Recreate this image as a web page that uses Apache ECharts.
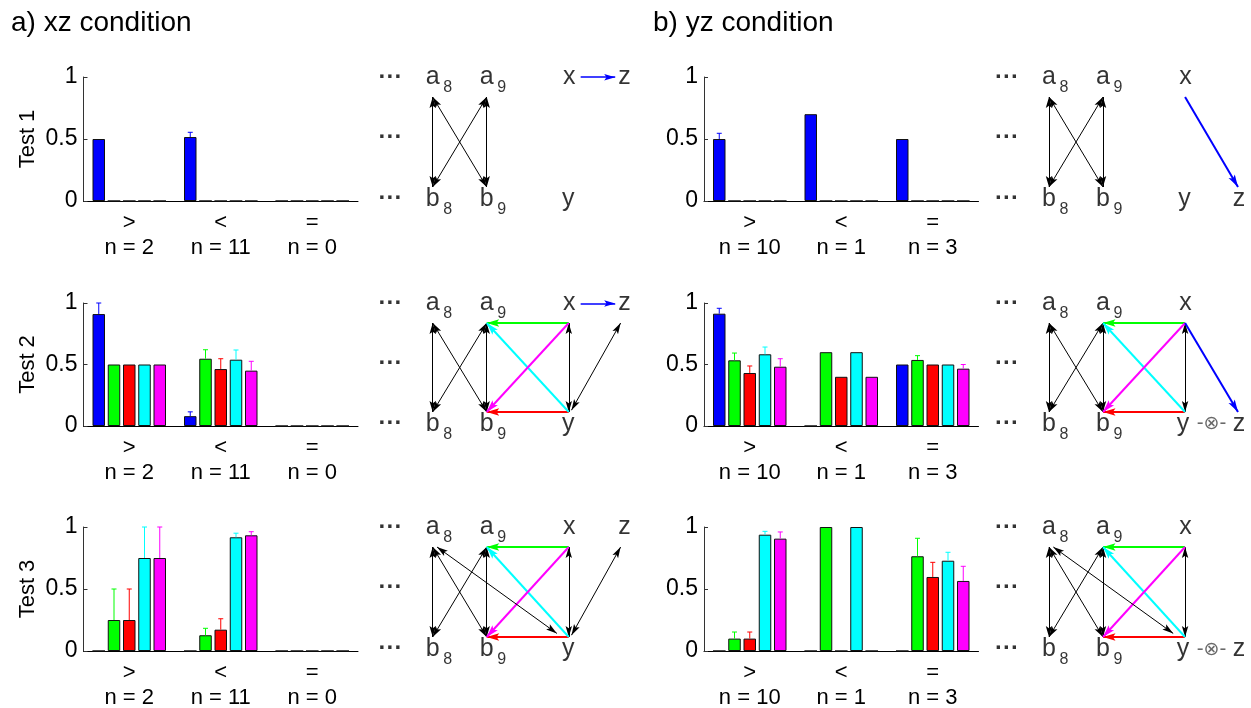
<!DOCTYPE html>
<html><head><meta charset="utf-8">
<script src="https://cdn.jsdelivr.net/npm/echarts@6/dist/echarts.min.js"></script>
<style>html,body{margin:0;padding:0;background:#fff}#c{width:1251px;height:708px}</style>
</head><body><div id="c"></div><script>
// ---------- data ----------
const categories = ['>', '<', '='];
const nXZ = [2, 11, 0];
const nYZ = [10, 1, 3];
const seriesColors = ['#0000ff', '#00ff00', '#ff0000', '#00ffff', '#ff00ff'];
// rows: blue, green, red, cyan, magenta ; columns: '>', '<', '='
const xzTest1Mean = [[0.5, 0.516, 0], [0, 0, 0], [0, 0, 0], [0, 0, 0], [0, 0, 0]];
const xzTest1Err  = [[0, 0.038, 0], [0, 0, 0], [0, 0, 0], [0, 0, 0], [0, 0, 0]];
const xzTest2Mean = [[0.91, 0.08, 0], [0.5, 0.547, 0], [0.5, 0.463, 0], [0.5, 0.539, 0], [0.5, 0.45, 0]];
const xzTest2Err  = [[0.09, 0.035, 0], [0, 0.073, 0], [0, 0.084, 0], [0, 0.079, 0], [0, 0.076, 0]];
const xzTest3Mean = [[0, 0, 0], [0.25, 0.127, 0], [0.25, 0.172, 0], [0.75, 0.917, 0], [0.75, 0.933, 0]];
const xzTest3Err  = [[0, 0, 0], [0.25, 0.056, 0], [0.25, 0.088, 0], [0.25, 0.033, 0], [0.25, 0.029, 0]];
const yzTest1Mean = [[0.5, 0.7, 0.5], [0, 0, 0], [0, 0, 0], [0, 0, 0], [0, 0, 0]];
const yzTest1Err  = [[0.046, 0, 0], [0, 0, 0], [0, 0, 0], [0, 0, 0], [0, 0, 0]];
const yzTest2Mean = [[0.913, 0, 0.5], [0.534, 0.6, 0.537], [0.431, 0.4, 0.5], [0.583, 0.6, 0.5], [0.482, 0.4, 0.466]];
const yzTest2Err  = [[0.044, 0, 0], [0.059, 0, 0.035], [0.057, 0, 0], [0.059, 0, 0], [0.065, 0, 0.034]];
const yzTest3Mean = [[0, 0, 0], [0.1, 1.0, 0.764], [0.1, 0, 0.597], [0.938, 1.0, 0.728], [0.906, 0, 0.565]];
const yzTest3Err  = [[0, 0, 0], [0.053, 0, 0.145], [0.053, 0, 0.118], [0.027, 0, 0.068], [0.054, 0, 0.118]];

// diagram edges: [from, to, kind]  k = black double-headed, others = coloured single arrow
const abEdges = [['a8', 'b8', 'k'], ['a8', 'b9', 'k'], ['a9', 'b8', 'k'], ['a9', 'b9', 'k']];
const squareEdges = [['x', 'y', 'k'], ['x', 'a9', 'g'], ['y', 'b9', 'r'], ['y', 'a9', 'c'], ['x', 'b9', 'm']];
const xzTest1Edges = abEdges.concat([['xL', 'zL', 'bl']]);
const xzTest2Edges = abEdges.concat(squareEdges, [['yZ', 'zT', 'k'], ['xL', 'zL', 'bl']]);
const xzTest3Edges = abEdges.concat(squareEdges, [['a8D', 'yD', 'k'], ['yZ', 'zT', 'k']]);
const yzTest1Edges = abEdges.concat([['x', 'zB', 'b']]);
const yzTest2Edges = abEdges.concat(squareEdges, [['x', 'zB', 'b']]);
const yzTest3Edges = abEdges.concat(squareEdges, [['a8D', 'yD', 'k']]);

// diagram node texts: [text, subscript, node]
const abTexts = [['a', '8', 'ta8'], ['b', '8', 'tb8'], ['a', '9', 'ta9'], ['b', '9', 'tb9'],
                 ['···', '', 'd1'], ['···', '', 'd2'], ['···', '', 'd3']];
const xzTexts = abTexts.concat([['x', '', 'tx'], ['y', '', 'ty'], ['z', '', 'tzT']]);
const yzTest1Texts = abTexts.concat([['x', '', 'tx'], ['y', '', 'ty'], ['z', '', 'tzB']]);
const yzTest23Texts = abTexts.concat([['x', '', 'tx'], ['y', '', 'ty2'], ['-⊗-', '', 'tot'], ['z', '', 'tzB']]);

// ---------- layout / style ----------
const FONT = '"Liberation Sans", Arial, Helvetica, sans-serif';
const P = { // diagram positions (column units, row units)
  a8: [0, 1], b8: [0, 0], a9: [1, 1], b9: [1, 0], x: [2.52, 1], y: [2.52, 0],
  zT: [3.48, 1], zB: [3.5, 0], xL: [2.74, 1.22], zL: [3.38, 1.22],
  a8D: [0.08, 1], yD: [2.3, 0.04], yZ: [2.57, 0.02],
  ta8: [0, 1.22], tb8: [0, -0.14], ta9: [1, 1.22], tb9: [1, -0.14],
  d1: [-0.78, 1.22], d2: [-0.78, 0.55], d3: [-0.78, -0.13],
  tx: [2.53, 1.22], ty: [2.51, -0.14], ty2: [2.48, -0.14], tzT: [3.55, 1.22], tzB: [3.52, -0.14], tot: [3.01, -0.14]
};
const ROWS = [[77, 201], [303, 426], [527, 651]];
const BAR_LEFT = [83.5, 704];
const BAR_W = 274.5;
const DIA_A8X = [432.7, 1049];
const UNIT = 54;
const BARW = 12.5, GAP = 0.22;
const STEP = BARW * (1 + GAP);
const edgeColor = { k: '#000', g: '#00ff00', r: '#ff0000', c: '#00ffff', m: '#ff00ff', b: '#0000ff', bl: '#0000ff' };
const ARROW = 'path://M0,0 M24,24 M12,12 L15.5,24 L12,21.5 L8.5,24 Z';

const means = [[xzTest1Mean, xzTest2Mean, xzTest3Mean], [yzTest1Mean, yzTest2Mean, yzTest3Mean]];
const errs = [[xzTest1Err, xzTest2Err, xzTest3Err], [yzTest1Err, yzTest2Err, yzTest3Err]];
const edges = [[xzTest1Edges, xzTest2Edges, xzTest3Edges], [yzTest1Edges, yzTest2Edges, yzTest3Edges]];
const texts = [[xzTexts, xzTexts, xzTexts], [yzTest1Texts, yzTest23Texts, yzTest23Texts]];
const ns = [nXZ, nYZ];

const grid = [], xAxis = [], yAxis = [], series = [];
for (let col = 0; col < 2; col++) {
  for (let row = 0; row < 3; row++) {
    const [Y1, Y0] = ROWS[row];
    // ---- bar panel ----
    const gi = grid.length;
    grid.push({ left: BAR_LEFT[col], top: Y1, width: BAR_W, height: Y0 - Y1, containLabel: false, outerBoundsMode: 'none' });
    const nArr = ns[col];
    xAxis.push({
      gridIndex: gi, type: 'category', data: categories,
      axisLine: { show: true, lineStyle: { color: '#000', width: 1 } },
      axisTick: { show: false }, splitLine: { show: false },
      axisLabel: { formatter: (v, i) => v + '\nn = ' + nArr[i], fontSize: 22, lineHeight: 25, color: '#000', margin: 9, fontFamily: FONT, interval: 0 }
    });
    yAxis.push({
      gridIndex: gi, type: 'value', min: 0, max: 1, interval: 0.5,
      axisLine: { show: true, lineStyle: { color: '#333', width: 1 } },
      axisTick: { show: true, inside: true, length: 4, lineStyle: { color: '#333' } },
      splitLine: { show: false },
      axisLabel: { fontSize: 23, color: '#000', margin: 6, fontFamily: FONT },
      name: col === 0 ? 'Test ' + (row + 1) : '', nameLocation: 'middle', nameGap: 45, nameRotate: 90,
      nameTextStyle: { fontSize: 22, color: '#000', fontFamily: FONT }
    });
    const m = means[col][row], e = errs[col][row];
    for (let s = 0; s < 5; s++) {
      series.push({
        type: 'bar', xAxisIndex: gi, yAxisIndex: gi, data: m[s],
        barWidth: BARW, barGap: (GAP * 100) + '%',
        itemStyle: { color: seriesColors[s], borderColor: '#111', borderWidth: 1 },
        animation: false, silent: true
      });
    }
    const errData = [];
    for (let s = 0; s < 5; s++) for (let c = 0; c < 3; c++) if (e[s][c] > 0) errData.push([c, m[s][c], e[s][c], s]);
    series.push({
      type: 'custom', xAxisIndex: gi, yAxisIndex: gi, data: errData, encode: { x: 0, y: 1 }, z: 3,
      animation: false, silent: true,
      renderItem: (params, api) => {
        const c = api.value(0), mv = api.value(1), ev = api.value(2), s = api.value(3);
        const p0 = api.coord([c, mv]), p1 = api.coord([c, mv + ev]);
        const x = p0[0] + (s - 2) * STEP;
        const st = { stroke: seriesColors[s], lineWidth: 1 };
        return { type: 'group', children: [
          { type: 'line', shape: { x1: x, y1: p0[1], x2: x, y2: p1[1] }, style: st },
          { type: 'line', shape: { x1: x - 2.5, y1: p1[1], x2: x + 2.5, y2: p1[1] }, style: st }
        ] };
      }
    });

    // ---- diagram panel ----
    const di = grid.length;
    const u = (Y0 - 14) - (Y1 + 20);
    grid.push({ left: DIA_A8X[col] - 0.9 * UNIT, top: Y1 + 20 - 0.4 * u, width: 4.6 * UNIT, height: 1.8 * u, containLabel: false, outerBoundsMode: 'none' });
    xAxis.push({ gridIndex: di, type: 'value', min: -0.9, max: 3.7, show: false });
    yAxis.push({ gridIndex: di, type: 'value', min: -0.4, max: 1.4, show: false });
    const lineData = edges[col][row].map(([a, b, k]) => {
      const dbl = k === 'k';
      return {
        coords: [P[a], P[b]],
        symbol: dbl ? [ARROW, ARROW] : ['none', ARROW],
        symbolSize: dbl ? [22, 22] : (k === 'bl' ? [0, 22] : [0, 25]),
        lineStyle: { color: edgeColor[k], width: dbl ? 1 : (k === 'bl' ? 1.6 : 2), opacity: 1 }
      };
    });
    series.push({
      type: 'lines', coordinateSystem: 'cartesian2d', xAxisIndex: di, yAxisIndex: di,
      data: lineData, lineStyle: { opacity: 1, curveness: 0 }, animation: false, silent: true, z: 2
    });
    const tx = texts[col][row];
    series.push({
      type: 'scatter', xAxisIndex: di, yAxisIndex: di, symbolSize: 0, animation: false, silent: true, z: 4,
      data: tx.map(([t, sub, node]) => ({
        value: P[node], name: t,
        label: t === '···' ? { fontSize: 24, fontWeight: 'bold' } : (t === '-⊗-' ? { fontSize: 19, color: '#444', fontFamily: '"DejaVu Sans", sans-serif' } : {})
      })),
      label: { show: true, position: 'inside', formatter: '{b}', fontSize: 25, color: '#000', fontFamily: FONT }
    });
    series.push({
      type: 'scatter', xAxisIndex: di, yAxisIndex: di, symbolSize: 0, animation: false, silent: true, z: 4,
      data: tx.filter(d => d[1]).map(([t, sub, node]) => ({ value: P[node], name: sub })),
      label: { show: true, position: 'inside', offset: [15, 10], formatter: '{b}', fontSize: 16, color: '#000', fontFamily: FONT }
    });
  }
}

const chart = echarts.init(document.getElementById('c'), null, { renderer: 'canvas' });
chart.setOption({
  backgroundColor: '#fff',
  animation: false,
  title: [
    { text: 'a) xz condition', left: 11, top: 9, padding: 0, textStyle: { fontSize: 28, fontWeight: 'normal', color: '#000', fontFamily: FONT } },
    { text: 'b) yz condition', left: 653, top: 9, padding: 0, textStyle: { fontSize: 28, fontWeight: 'normal', color: '#000', fontFamily: FONT } }
  ],
  grid, xAxis, yAxis, series
});
</script></body></html>
